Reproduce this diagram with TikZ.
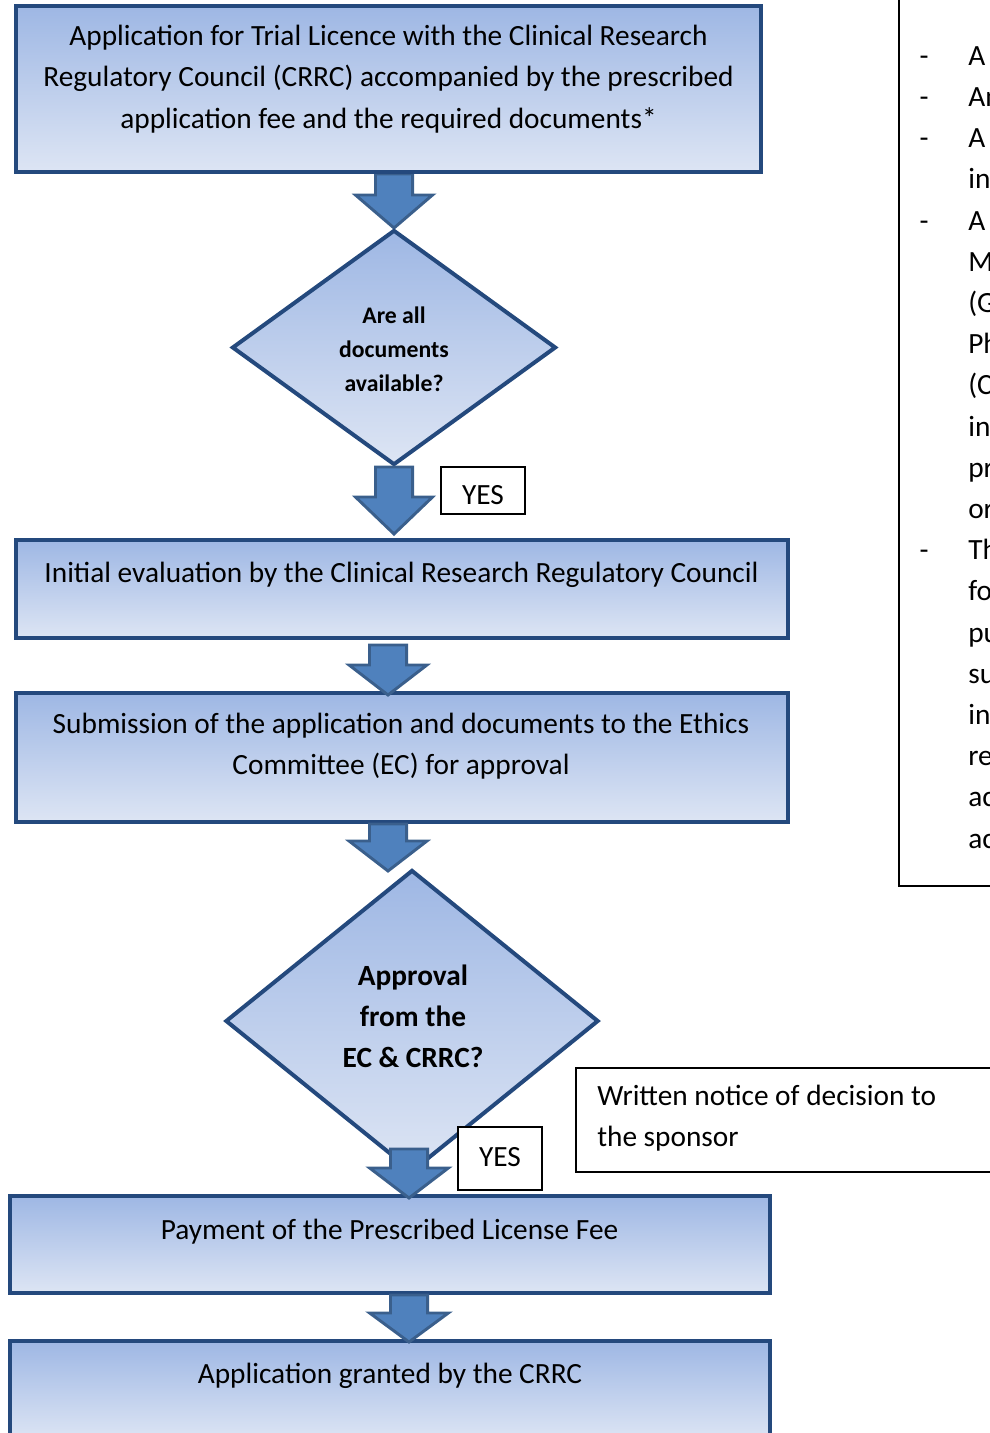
\documentclass[tikz,border=0pt]{standalone}
\usepackage{fontspec}
\setmainfont{Carlito}
\usetikzlibrary{shapes.geometric,fit,calc}
\definecolor{boxtop}{RGB}{158,183,228}
\definecolor{boxbot}{RGB}{221,229,244}
\definecolor{boxline}{RGB}{36,73,125}
\definecolor{arrowfill}{RGB}{79,129,189}
\definecolor{arrowline}{RGB}{58,95,140}
\pgfdeclarelayer{bg}
\pgfsetlayers{bg,main}
\tikzset{
  flowbox/.style={rectangle, draw=boxline, line width=3pt, top color=boxtop, bottom color=boxbot, inner sep=0pt},
  decision/.style={diamond, draw=boxline, line width=3pt, top color=boxtop, bottom color=boxbot, inner sep=0pt},
  boxtext/.style={font=\fontsize{22}{31}\selectfont, align=center, inner sep=0pt},
  dtexta/.style={font=\fontsize{17.8}{25.5}\selectfont\bfseries, align=center, inner sep=0pt},
  dtextb/.style={font=\fontsize{22}{30.75}\selectfont\bfseries, align=center, inner sep=0pt},
  thinbox/.style={rectangle, draw=black, line width=0.8pt, fill=white, inner sep=0pt},
  paneltext/.style={font=\fontsize{22}{31}\selectfont, inner sep=0pt},
  blockarrow/.style n args={3}{draw=arrowline, fill=arrowfill, line width=2.2pt, line join=miter,
    to path={let \p1=(\tikztostart), \p2=(\tikztotarget) in
      (\x1-#1,\y1) -- (\x1+#1,\y1) -- (\x1+#1,\y2+#3) -- (\x1+#2,\y2+#3) -- (\x1,\y2)
      -- (\x1-#2,\y2+#3) -- (\x1-#1,\y2+#3) -- cycle}},
}
\begin{document}
\begin{tikzpicture}[x=0.75pt,y=-0.75pt]
\useasboundingbox (0,0) rectangle (989,1433);

% boxes
\node[flowbox, fit={(16,6)(761,172)}] (b1) {};
\node[flowbox, fit={(16,540)(788,638)}] (b2) {};
\node[flowbox, fit={(16,693)(788,822)}] (b3) {};
\node[flowbox, fit={(10,1196)(770,1293)}] (b4) {};
\node[flowbox, fit={(10,1341)(770,1440)}] (b5) {};

% decisions
\node[decision, minimum width=243pt, minimum height=176.25pt] (d1) at (394,347.5) {};
\node[decision, minimum width=279.75pt, minimum height=226.5pt] (d2) at (412,1021) {};

% arrows
\begin{pgfonlayer}{bg}
\draw[blockarrow={13.9pt}{28.9pt}{24.75pt}] (d1.north |- b1.south) to (d1.north);
\end{pgfonlayer}
\draw[blockarrow={13.9pt}{28.9pt}{27.75pt}] (d1.south) to ($(d1.south |- b2.north)+(0,-4)$);
\draw[blockarrow={13.9pt}{29.2pt}{22.5pt}] ([shift={(-14,5)}]b2.south) to ([shift={(-14,4)}]b3.north);
\draw[blockarrow={13.9pt}{29.2pt}{22.5pt}] ([shift={(-14,0)}]b3.south) to ([shift={(-24,3)}]d2.north);
\draw[blockarrow={13.9pt}{29.5pt}{22.5pt}] ([shift={(-3,-25)}]d2.south) to ([shift={(19,4)}]b4.north);
\draw[blockarrow={13.9pt}{29.5pt}{21.75pt}] ([shift={(19,0)}]b4.south) to ([shift={(19,3)}]b5.north);

% texts in boxes
\node[boxtext] (t1) at (388.5,78.5) {\strut Application for Trial Licence with the Clinical Research\\\strut Regulatory Council (CRRC) accompanied by the prescribed\\\strut application fee and the required documents*};
\node[dtexta] (t2) at (394,351) {\strut Are all\\\strut documents\\\strut available?};
\node[boxtext] (t3) at (401.5,574) {\strut Initial evaluation by the Clinical Research Regulatory Council};
\node[boxtext] (t4) at (401,746) {\strut Submission of the application and documents to the Ethics\\\strut Committee (EC) for approval};
\node[dtextb] (t5) at (413,1018) {\strut Approval\\\strut from the\\\strut EC \& CRRC?};
\node[boxtext] (t6) at (389.5,1231) {\strut Payment of the Prescribed License Fee};
\node[boxtext] (t7) at (390,1375) {\strut Application granted by the CRRC};

% YES labels
\node[thinbox, boxtext, minimum width=63pt, minimum height=35.25pt, text height=21.5pt, text depth=0pt] (y1) at (483,490.5) {YES};
\node[thinbox, boxtext, minimum width=63pt, minimum height=47.25pt] (y2) at (500,1158.5) {\strut YES};

% notice box
\node[thinbox, fit={(576,1068)(1010,1172)}] (notice) {};
\node[boxtext, align=left, anchor=west] (nt) at (597,1118) {\strut Written notice of decision to\\\strut the sponsor};

% right panel
\node[rectangle, draw=black, line width=0.8pt, inner sep=0pt, fit={(899,-10)(1010,886)}] (panel) {};
\foreach \k in {0,1,2,4,12} {
  \node[paneltext] (dash\k) at (924,57+41.2*\k) {\strut -};
}
\foreach \k/\t in {0/A,1/An,2/A,3/in,4/A,5/M,6/(G,7/Ph,8/(C,9/in,10/pr,11/or,12/Th,13/fo,14/pu,15/su,16/in,17/re,18/ac,19/ac} {
  \node[paneltext, anchor=west] (pl\k) at (968,57+41.2*\k) {\strut \t};
}
\end{tikzpicture}
\end{document}
